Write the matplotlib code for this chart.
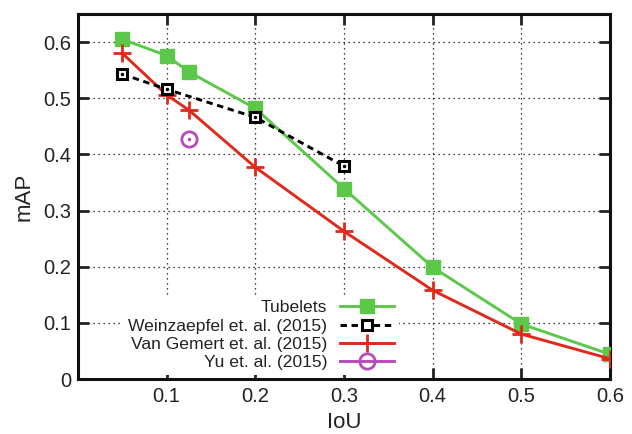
import matplotlib
matplotlib.use('Agg')
import matplotlib.pyplot as plt

# values
iou = [0.05, 0.1, 0.125, 0.2, 0.3, 0.4, 0.5, 0.6]
tubelets = [0.605, 0.576, 0.547, 0.482, 0.339, 0.199, 0.098, 0.044]
weinz_iou = [0.05, 0.1, 0.2, 0.3]
weinzaepfel = [0.543, 0.516, 0.466, 0.379]
van_gemert = [0.580, 0.506, 0.479, 0.377, 0.263, 0.158, 0.080, 0.036]
yu_iou = [0.125]
yu = [0.428]

x_ticks = [0.1, 0.2, 0.3, 0.4, 0.5, 0.6]
y_ticks = [0, 0.1, 0.2, 0.3, 0.4, 0.5, 0.6]
y_labels = ['0', '0.1', '0.2', '0.3', '0.4', '0.5', '0.6']

plt.rcParams['font.family'] = ['Liberation Sans', 'DejaVu Sans']

fig = plt.figure(figsize=(6.32, 4.34), dpi=100)
ax = fig.add_axes([0.1234, 0.1267, 0.8418, 0.8410])

green = '#5cc84a'
red = '#e0291c'
purple = '#b74bb8'

ax.plot(iou, tubelets, color=green, lw=2.1, marker='s', ms=10, label='Tubelets', zorder=3)
ax.plot(weinz_iou, weinzaepfel, color='black', lw=2.1, ls=(0, (2.2, 1.6)), marker='s', ms=7.5,
        mfc='white', mec='black', mew=2.2, label='Weinzaepfel et. al. (2015)', zorder=4)
ax.plot(iou, van_gemert, color=red, lw=2.1, marker='+', ms=13, mew=2, label='Van Gemert et. al. (2015)', zorder=3)
ax.plot(yu_iou, yu, color=purple, lw=2.1, marker='o', ms=11, mfc='none', mew=2,
        label='Yu et. al. (2015)', zorder=3)
# centre dots of the gnuplot point styles
ax.plot(weinz_iou, weinzaepfel, ls='none', marker='.', ms=3, color='black', zorder=5)
ax.plot(yu_iou, yu, ls='none', marker='.', ms=3, color=purple, zorder=5)

ax.set_xlim(0, 0.6)
ax.set_ylim(0, 0.65)
ax.set_xticks(x_ticks)
ax.set_xticklabels([str(t) for t in x_ticks])
ax.set_yticks(y_ticks)
ax.set_yticklabels(y_labels)
ax.tick_params(direction='in', length=8, width=2, labelsize=14.5, top=True, right=True, colors='#222222')
ax.tick_params(axis='x', pad=6)
ax.tick_params(axis='y', pad=5)

for s in ax.spines.values():
    s.set_linewidth(2.2)
    s.set_color('#111111')

ax.grid(True, color='black', ls=(0, (1, 3)), lw=0.9)
ax.set_axisbelow(True)

ax.set_xlabel('IoU', fontsize=16, labelpad=4, color='#222222')
ax.set_ylabel('mAP', fontsize=16, labelpad=6, color='#222222')

leg = ax.legend(loc='lower right', bbox_to_anchor=(0.62, -0.014), markerfirst=False, fontsize=12.6,
                handlelength=3.1, handletextpad=0.7, labelspacing=0.17, borderpad=0.3,
                frameon=True, fancybox=False, framealpha=1, facecolor='white', edgecolor='none')
for t in leg.get_texts():
    t.set_color('#222222')
leg.set_zorder(6)

fig.savefig('out.png', dpi=100)
